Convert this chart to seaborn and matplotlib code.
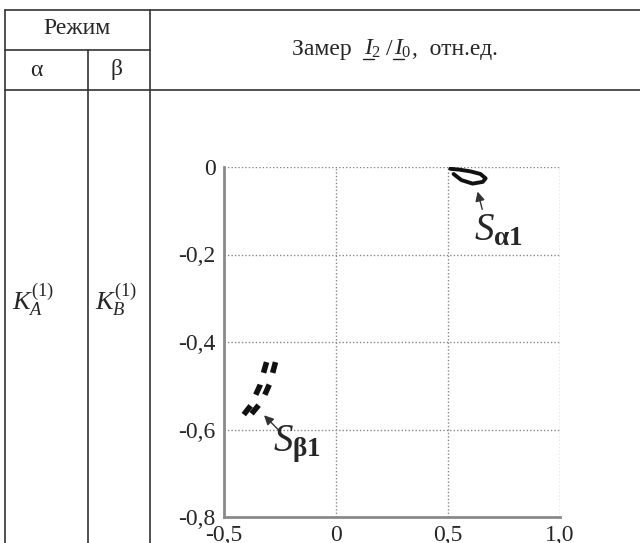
import numpy as np
import pandas as pd

import matplotlib.pyplot as plt
from matplotlib.lines import Line2D
import seaborn as sns


# 데이터: 궤적 (Sα1 - 닫힌 루프, Sβ1 - 점선 루프의 양쪽 가지)
s_alpha_x = [0.51, 0.55, 0.60, 0.645, 0.668, 0.655, 0.61, 0.56, 0.525, 0.51]
s_alpha_y = [-0.004, -0.006, -0.010, -0.016, -0.026, -0.034, -0.038, -0.030, -0.016, -0.004]

s_beta_left_x = [-0.31, -0.34, -0.38, -0.43]
s_beta_left_y = [-0.446, -0.500, -0.545, -0.578]
s_beta_right_x = [-0.270, -0.295, -0.33, -0.39]
s_beta_right_y = [-0.446, -0.494, -0.535, -0.572]

x_ticks = [-0.5, 0, 0.5, 1.0]
x_tick_labels = ['-0,5', '0', '0,5', '1,0']
y_ticks = [0, -0.2, -0.4, -0.6, -0.8]
y_tick_labels = ['0', '-0,2', '-0,4', '-0,6', '-0,8']

sns.set_style('white')
plt.rcParams['font.family'] = ['Liberation Serif', 'DejaVu Serif']
plt.rcParams['mathtext.fontset'] = 'custom'
plt.rcParams['mathtext.rm'] = 'Liberation Serif'
plt.rcParams['mathtext.it'] = 'Liberation Serif:italic'
plt.rcParams['mathtext.bf'] = 'Liberation Serif:bold'

W, H = 640, 543
fig = plt.figure(figsize=(6.4, 5.43), dpi=100)
renderer = fig.canvas.get_renderer()


# 픽셀 좌표 -> figure 좌표
def fx(px):
    return px / W


def fy(py):
    return 1 - py / H


# 표 테두리 그리기
line_kw = dict(color='#333333', linewidth=1.2)
table_lines = [
    ((5, 640), (10, 10)),
    ((5, 150), (50, 50)),
    ((5, 640), (90, 90)),
    ((5, 5), (10, 543)),
    ((88, 88), (50, 543)),
    ((150, 150), (10, 543)),
]
for (x0, x1), (y0, y1) in table_lines:
    fig.add_artist(Line2D([fx(x0), fx(x1)], [fy(y0), fy(y1)], **line_kw))

# 표 텍스트
head_size = 17
fig.text(fx(77), fy(29), 'Режим', ha='center', va='center', fontsize=head_size)
fig.text(fx(36), fy(70), 'α', ha='center', va='center', fontsize=head_size)
fig.text(fx(117), fy(70), 'β', ha='center', va='center', fontsize=head_size)
fig.text(fx(33), fy(300), r'$K_A^{(1)}$', ha='center', va='center', fontsize=19)
fig.text(fx(116), fy(300), r'$K_B^{(1)}$', ha='center', va='center', fontsize=19)

# 헤더: 밑줄 친 I (mathtext 에 \underline 없음 -> 조각별로 그리기)
pieces = ['Замер  ', '$I_2$', '$\\;/\\;$', '$I_0$', ',  отн.ед.']
underlined = [False, True, False, True, False]
widths = []
for p in pieces:
    t = fig.text(0, 0, p, fontsize=head_size)
    widths.append(t.get_window_extent(renderer).width)
    t.remove()
t = fig.text(0, 0, '$I$', fontsize=head_size)
i_width = t.get_window_extent(renderer).width
t.remove()

x_px = 395 - sum(widths) / 2
base_py = 55
for p, w, u in zip(pieces, widths, underlined):
    fig.text(fx(x_px), fy(base_py), p, ha='left', va='baseline', fontsize=head_size)
    if u:
        fig.add_artist(Line2D([fx(x_px - 1), fx(x_px + i_width - 1)],
                              [fy(base_py + 4), fy(base_py + 4)],
                              color='#222222', linewidth=1))
    x_px += w

# 그래프 영역
ax = fig.add_axes([fx(224), fy(517), (560 - 224) / W, (517 - 167) / H])

sns.lineplot(x=s_alpha_x, y=s_alpha_y, sort=False, color='#111111',
             linewidth=2.8, ax=ax)
sns.lineplot(x=s_beta_left_x, y=s_beta_left_y, sort=False, color='#111111',
             linewidth=4, ax=ax)
ax.lines[-1].set_dashes((2.0, 2.2))
sns.lineplot(x=s_beta_right_x, y=s_beta_right_y, sort=False, color='#111111',
             linewidth=4, ax=ax)
ax.lines[-1].set_dashes((2.0, 2.2))

ax.set_xlim(-0.5, 1.0)
ax.set_ylim(-0.8, 0)
ax.set_xticks(x_ticks)
ax.set_xticklabels(x_tick_labels)
ax.set_yticks(y_ticks)
ax.set_yticklabels(y_tick_labels)
ax.tick_params(length=0, labelsize=17, pad=6)
ax.grid(True, color='#888888', linestyle=(0, (1, 1.5)), linewidth=1)

for side in ['top', 'right']:
    ax.spines[side].set_visible(False)
for side in ['left', 'bottom']:
    ax.spines[side].set_color('#8a8a8a')
    ax.spines[side].set_linewidth(2)

# 주석 (화살표)
arrow_kw = dict(arrowstyle='-|>', color='#333333', lw=1, mutation_scale=14)
ax.annotate('', xy=(0.629, -0.05), xytext=(0.656, -0.103), arrowprops=arrow_kw)
ax.text(0.615, -0.145, r'$S_{\mathbf{\alpha 1}}$', ha='left', va='center', fontsize=28)
ax.annotate('', xy=(-0.33, -0.563), xytext=(-0.241, -0.609), arrowprops=arrow_kw)
ax.text(-0.28, -0.633, r'$S_{\mathbf{\beta 1}}$', ha='left', va='center', fontsize=28)

fig.savefig('out.png', dpi=100)
